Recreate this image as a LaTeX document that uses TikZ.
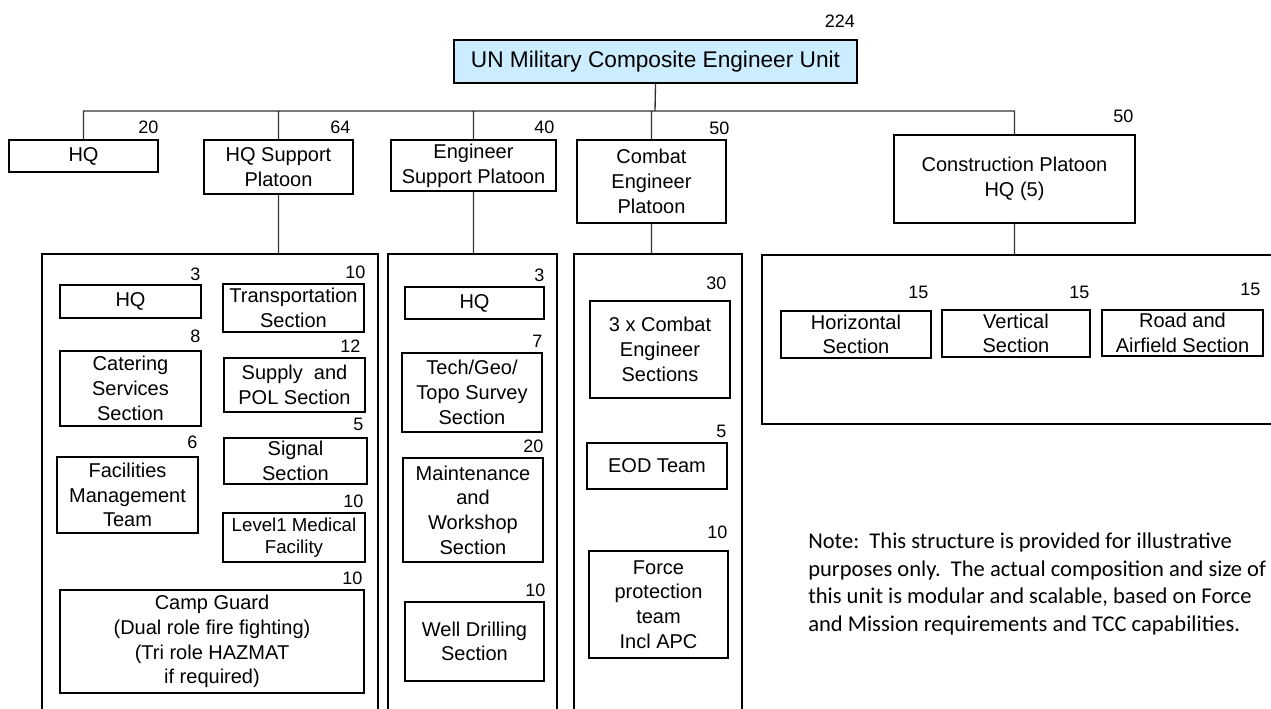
\documentclass[tikz,border=0pt]{standalone}
\usepackage{fontspec}
\setmainfont{Liberation Sans}
\newfontfamily\notefont{Carlito}
\usepackage{tikz}
\usetikzlibrary{positioning}
\definecolor{unitblue}{RGB}{204,236,255}
\tikzset{
  box/.style={draw, line width=1.1pt, align=center, inner sep=0pt,
    font=\fontsize{15}{18.5}\selectfont}, % every section box
  boxsize/.style 2 args={minimum width=#1*0.75pt, minimum height=#2*0.75pt},
  topbox/.style={box, line width=1.8pt, fill=unitblue,
    font=\fontsize{17}{20}\selectfont},
  unitframe/.style={draw, line width=1.1pt, inner sep=0pt}, % open frame round a platoon
  strength/.style={inner sep=0pt, font=\fontsize{13.5}{16}\selectfont}, % head counts
  wire/.style={line width=1pt, draw=black!80},
}

\begin{document}
\begin{tikzpicture}[x=0.75pt, y=-0.75pt]
    \useasboundingbox (0,0) rectangle (1271,709);
    \clip (0,0) rectangle (1271,709);

    % top level
    \node[topbox, boxsize={403}{43}] (unit) at (655.5,61.5) {UN Military Composite Engineer Unit};
    \node[box, boxsize={149}{32}] (hq) at (83.5,156) {HQ};
    \node[box, boxsize={149}{54}] (hqsp) at (278.5,167) {HQ Support\\Platoon};
    \node[box, boxsize={165}{51}] (esp) at (473.5,165.5) {Engineer\\Support Platoon};
    \node[box, boxsize={149}{83}] (cep) at (651.5,181.5) {Combat\\Engineer\\Platoon};
    \node[box, boxsize={241}{88}] (cp) at (1014.5,179) {Construction Platoon\\HQ (5)};

    % frames, open at the bottom and right edge
    \node[unitframe, boxsize={336}{476}] (hqsp-unit) at (210,492) {};
    \node[unitframe, boxsize={169}{476}] (esp-unit) at (472.5,492) {};
    \node[unitframe, boxsize={168}{476}] (cep-unit) at (658,492) {};
    \node[unitframe, boxsize={523}{169}] (cp-unit) at (1023.5,339.5) {};

    % HQ support platoon
    \node[box, boxsize={141}{33}] (shq) at (130.5,301.5) {HQ};
    \node[box, boxsize={141}{48}] (trans) at (293.5,308) {Transportation\\Section};
    \node[box, boxsize={141}{75}] (cater) at (130.5,388.5) {Catering\\Services\\Section};
    \node[box, boxsize={141}{54}] (supply) at (294.5,385) {Supply\ \ and\\POL Section};
    \node[box, boxsize={143}{46}] (signal) at (295.5,461) {Signal\\Section};
    \node[box, boxsize={141}{76}] (facil) at (127.5,495) {Facilities\\Management\\Team};
    \node[box, boxsize={142}{49}, font=\fontsize{14}{16.5}\selectfont] (medical) at (294,537.5) {Level1 Medical\\Facility};
    \node[box, boxsize={304}{103}] (camp) at (212,641.5) {Camp Guard\\(Dual role fire fighting)\\(Tri role HAZMAT\\if required)};

    % engineer support platoon
    \node[box, boxsize={139}{32}] (ehq) at (474.5,303) {HQ};
    \node[box, boxsize={140}{79}] (survey) at (472,392.5) {Tech/Geo/\\Topo Survey\\Section};
    \node[box, boxsize={140}{104}] (maint) at (473,510) {Maintenance\\and\\Workshop\\Section};
    \node[box, boxsize={139}{79}] (well) at (474.5,641.5) {Well Drilling\\Section};

    % combat engineer platoon
    \node[box, boxsize={140}{97}] (sections) at (660,349.5) {3 x Combat\\Engineer\\Sections};
    \node[box, boxsize={140}{46}] (eod) at (657,466) {EOD Team};
    \node[box, boxsize={139}{107}] (force) at (658.5,604.5) {Force\\protection\\team\\Incl APC};

    % construction platoon
    \node[box, boxsize={150}{47}] (horiz) at (856,334.5) {Horizontal\\Section};
    \node[box, boxsize={148}{47}] (vert) at (1016,333.5) {Vertical\\Section};
    \node[box, boxsize={161}{46}] (road) at (1182.5,333) {Road and\\Airfield Section};

    % head counts
    \node[strength, above left=7.9pt and 2.25pt of unit.north east] (unit-n) {224};
    \node[strength, above left=4.1pt and 0pt of hq.north east] (hq-n) {20};
    \node[strength, above left=4.1pt and 2.25pt of hqsp.north east] (hqsp-n) {64};
    \node[strength, above left=4.1pt and 1.5pt of esp.north east] (esp-n) {40};
    \node[strength, above left=3.4pt and -2.25pt of cep.north east] (cep-n) {50};
    \node[strength, above left=8.6pt and 1.5pt of cp.north east] (cp-n) {50};
    \node[strength, above left=2.6pt and 0.75pt of shq.north east] (shq-n) {3};
    \node[strength, above left=3.4pt and -0.75pt of trans.north east] (trans-n) {10};
    \node[strength, above left=5.6pt and 0.75pt of cater.north east] (cater-n) {8};
    \node[strength, above left=3.4pt and 3.75pt of supply.north east] (supply-n) {12};
    \node[strength, above left=4.9pt and 3pt of signal.north east] (signal-n) {5};
    \node[strength, above left=5.6pt and 0.75pt of facil.north east] (facil-n) {6};
    \node[strength, above left=3.4pt and 1.5pt of medical.north east] (medical-n) {10};
    \node[strength, above left=3.4pt and 1.5pt of camp.north east] (camp-n) {10};
    \node[strength, above left=3.4pt and 0pt of ehq.north east] (ehq-n) {3};
    \node[strength, above left=3.4pt and 0pt of survey.north east] (survey-n) {7};
    \node[strength, above left=3.4pt and 0pt of maint.north east] (maint-n) {20};
    \node[strength, above left=3.4pt and -0.75pt of well.north east] (well-n) {10};
    \node[strength, above left=7.9pt and 3pt of sections.north east] (sections-n) {30};
    \node[strength, above left=3.4pt and 0.75pt of eod.north east] (eod-n) {5};
    \node[strength, above left=8.6pt and 0.75pt of force.north east] (force-n) {10};
    \node[strength, above left=8.6pt and 2.25pt of horiz.north east] (horiz-n) {15};
    \node[strength, above left=7.9pt and 0.75pt of vert.north east] (vert-n) {15};
    \node[strength, above left=10.1pt and 2.25pt of road.north east] (road-n) {15};

    % note
    \node[anchor=west, align=left, inner sep=0pt, font=\notefont\fontsize{16.9}{20.55}\selectfont] (note) at (808,584)
      {Note:\ \ This structure is provided for illustrative\\
       purposes only.\ \ The actual composition and size of\\
       this unit is modular and scalable, based on Force\\
       and Mission requirements and TCC capabilities.};

    \coordinate (bus) at (655,111);
    \draw[wire]
    (unit.south) -- (bus)
    (hq.north) |- (bus)
    (cp.north) |- (bus)
    (hqsp.north) -- (hqsp.north |- bus)
    (esp.north) -- (esp.north |- bus)
    (cep.north) -- (cep.north |- bus)
    (hqsp.south) -- (hqsp.south |- hqsp-unit.north)
    (esp.south) -- (esp.south |- esp-unit.north)
    (cep.south) -- (cep.south |- cep-unit.north)
    (cp.south) -- (cp.south |- cp-unit.north)
    ;

  \end{tikzpicture}
\end{document}
